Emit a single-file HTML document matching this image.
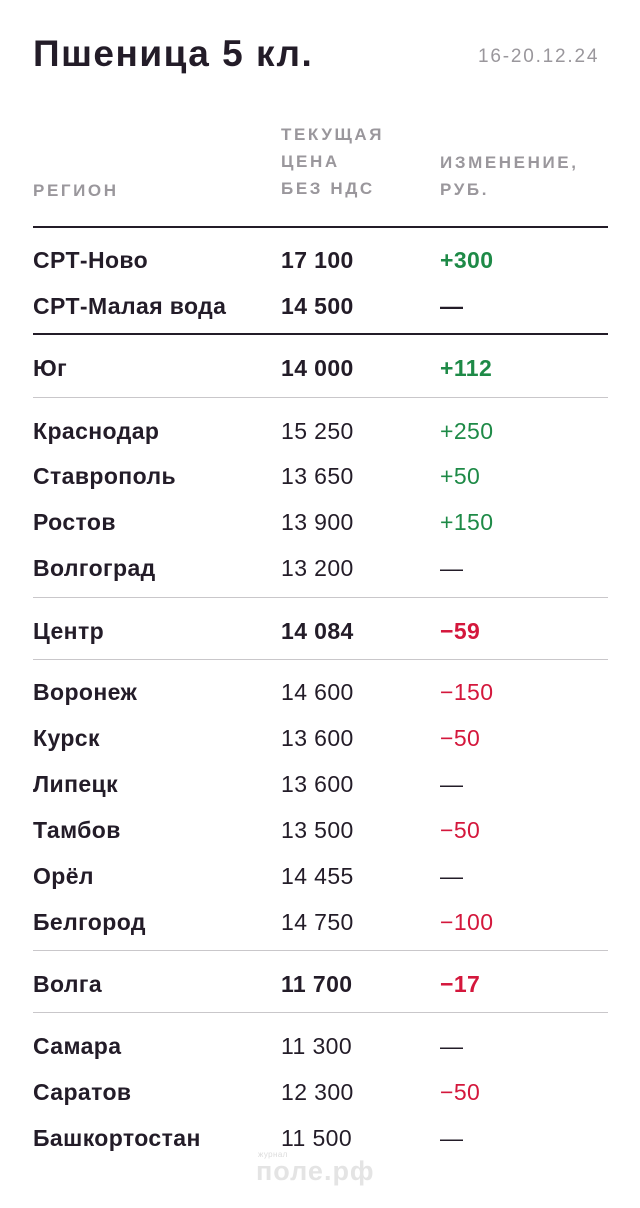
<!DOCTYPE html>
<html><head><meta charset="utf-8"><style>
body{margin:0;width:640px;height:1208px;background:#fff;position:relative;font-family:"Liberation Sans","DejaVu Sans",sans-serif;color:#231c28;overflow:hidden}
.a{position:absolute;white-space:nowrap;line-height:26px;font-size:23px;letter-spacing:0.4px}
.h{position:absolute;font-size:17px;color:#9a979c;letter-spacing:2.6px;font-weight:bold;line-height:27px}
.l{position:absolute;left:33px;width:575px;height:1px;background:#c9c7ca}
.d{height:2px;background:#231c28}
.b{font-weight:bold}
.g{color:#1e8a47}.r{color:#d4173c}
</style></head><body>
<div class="a b" style="left:33px;top:33px;font-size:37px;line-height:42px;letter-spacing:1.5px">Пшеница 5 кл.</div>
<div class="a" style="left:478px;top:44px;font-size:19px;color:#9a979c;letter-spacing:1.8px">16-20.12.24</div>
<div class="h" style="left:33px;top:177px">РЕГИОН</div>
<div class="h" style="left:281px;top:121px">ТЕКУЩАЯ<br>ЦЕНА<br>БЕЗ НДС</div>
<div class="h" style="left:440px;top:149px">ИЗМЕНЕНИЕ,<br>РУБ.</div>
<div class="l d" style="top:226px"></div>
<div class="l d" style="top:333px"></div>
<div class="l" style="top:397px"></div>
<div class="l" style="top:597px"></div>
<div class="l" style="top:659px"></div>
<div class="l" style="top:950px"></div>
<div class="l" style="top:1012px"></div>

<div class="a b" style="left:33px;top:247px">СРТ-Ново</div><div class="a b" style="left:281px;top:247px">17 100</div><div class="a b g" style="left:440px;top:247px">+300</div>
<div class="a b" style="left:33px;top:293px">СРТ-Малая вода</div><div class="a b" style="left:281px;top:293px">14 500</div><div class="a b" style="left:440px;top:293px">—</div>
<div class="a b" style="left:33px;top:355px">Юг</div><div class="a b" style="left:281px;top:355px">14 000</div><div class="a b g" style="left:440px;top:355px">+112</div>
<div class="a b" style="left:33px;top:418px">Краснодар</div><div class="a" style="left:281px;top:418px">15 250</div><div class="a g" style="left:440px;top:418px">+250</div>
<div class="a b" style="left:33px;top:463px">Ставрополь</div><div class="a" style="left:281px;top:463px">13 650</div><div class="a g" style="left:440px;top:463px">+50</div>
<div class="a b" style="left:33px;top:509px">Ростов</div><div class="a" style="left:281px;top:509px">13 900</div><div class="a g" style="left:440px;top:509px">+150</div>
<div class="a b" style="left:33px;top:555px">Волгоград</div><div class="a" style="left:281px;top:555px">13 200</div><div class="a" style="left:440px;top:555px">—</div>
<div class="a b" style="left:33px;top:618px">Центр</div><div class="a b" style="left:281px;top:618px">14 084</div><div class="a b r" style="left:440px;top:618px">−59</div>
<div class="a b" style="left:33px;top:679px">Воронеж</div><div class="a" style="left:281px;top:679px">14 600</div><div class="a r" style="left:440px;top:679px">−150</div>
<div class="a b" style="left:33px;top:725px">Курск</div><div class="a" style="left:281px;top:725px">13 600</div><div class="a r" style="left:440px;top:725px">−50</div>
<div class="a b" style="left:33px;top:771px">Липецк</div><div class="a" style="left:281px;top:771px">13 600</div><div class="a" style="left:440px;top:771px">—</div>
<div class="a b" style="left:33px;top:817px">Тамбов</div><div class="a" style="left:281px;top:817px">13 500</div><div class="a r" style="left:440px;top:817px">−50</div>
<div class="a b" style="left:33px;top:863px">Орёл</div><div class="a" style="left:281px;top:863px">14 455</div><div class="a" style="left:440px;top:863px">—</div>
<div class="a b" style="left:33px;top:909px">Белгород</div><div class="a" style="left:281px;top:909px">14 750</div><div class="a r" style="left:440px;top:909px">−100</div>
<div class="a b" style="left:33px;top:971px">Волга</div><div class="a b" style="left:281px;top:971px">11 700</div><div class="a b r" style="left:440px;top:971px">−17</div>
<div class="a b" style="left:33px;top:1033px">Самара</div><div class="a" style="left:281px;top:1033px">11 300</div><div class="a" style="left:440px;top:1033px">—</div>
<div class="a b" style="left:33px;top:1079px">Саратов</div><div class="a" style="left:281px;top:1079px">12 300</div><div class="a r" style="left:440px;top:1079px">−50</div>
<div class="a b" style="left:33px;top:1125px">Башкортостан</div><div class="a" style="left:281px;top:1125px">11 500</div><div class="a" style="left:440px;top:1125px">—</div>
<div class="a" style="left:258px;top:1150px;font-size:8px;line-height:10px;color:#dcdcdc">журнал</div>
<div class="a b" style="left:256px;top:1157px;font-size:27px;line-height:28px;color:#e4e4e4;letter-spacing:1px">поле.рф</div>
</body></html>
